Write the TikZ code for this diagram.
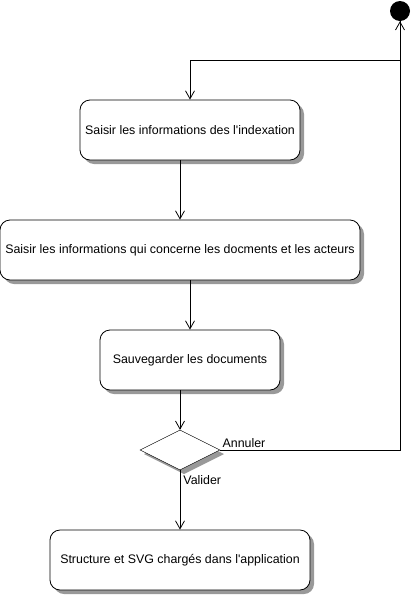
\documentclass[tikz,border=0pt]{standalone}
\usepackage{fontspec}
\setmainfont{Liberation Sans}
\usetikzlibrary{arrows.meta,shapes.geometric}
\begin{document}
\begin{tikzpicture}[x=1pt,y=-1pt,
    font=\fontsize{12.4}{14}\selectfont,
    >={Straight Barb[length=8pt,width=9pt]},
    activity/.style={draw,thick,rounded corners=10pt,fill=white,inner sep=0pt},
    choice/.style={draw,diamond,fill=white,inner sep=0pt},
    ombre/.style={fill=black!40,draw=none}]
    \useasboundingbox (0,0) rectangle (415,595);

    % ombres
    \fill[ombre,rounded corners=10pt] (84,104) rectangle (304,164);
    \fill[ombre,rounded corners=10pt] (4,224) rectangle (364,284);
    \fill[ombre,rounded corners=10pt] (104,334) rectangle (284,394);
    \fill[ombre] (184,434) -- (224,454) -- (184,474) -- (144,454) -- cycle;
    \fill[ombre,rounded corners=10pt] (54,534) rectangle (314,594);

    \node[circle,fill=black,minimum size=20pt,inner sep=0pt] (start) at (400,11) {};
    \node[activity,minimum width=220pt,minimum height=60pt] (index) at (190,130) {Saisir les informations des l\textquotesingle indexation};
    \node[activity,minimum width=360pt,minimum height=60pt] (acteurs) at (180,250) {Saisir les informations qui concerne les docments et les acteurs};
    \node[activity,minimum width=180pt,minimum height=60pt] (sauve) at (190,360) {Sauvegarder les documents};
    \node[choice,minimum width=80pt,minimum height=40pt,aspect=2] (choix) at (180,450) {};
    \node[activity,minimum width=260pt,minimum height=60pt] (fin) at (180,560) {Structure et SVG chargés dans l\textquotesingle application};

    \coordinate (coin) at (400,450);
    \coordinate (branche) at (400,60);

    \draw[thick,->] (start) -- (branche) -| (index);
    \draw[thick,->] (index.south -| 180,0) -- (acteurs.north -| 180,0);
    \draw[thick,->] (acteurs.south -| 190,0) -- (sauve.north -| 190,0);
    \draw[thick,->] (sauve.south -| 180,0) -- (choix);
    \draw[thick,->] (choix) -- node[pos=0,below right,inner sep=3pt,yshift=-2pt] {Valider} (fin);
    \draw[thick,->] (choix.east) -- node[pos=0,above right,inner sep=2pt] {Annuler} (coin) -- (start);
\end{tikzpicture}
\end{document}
